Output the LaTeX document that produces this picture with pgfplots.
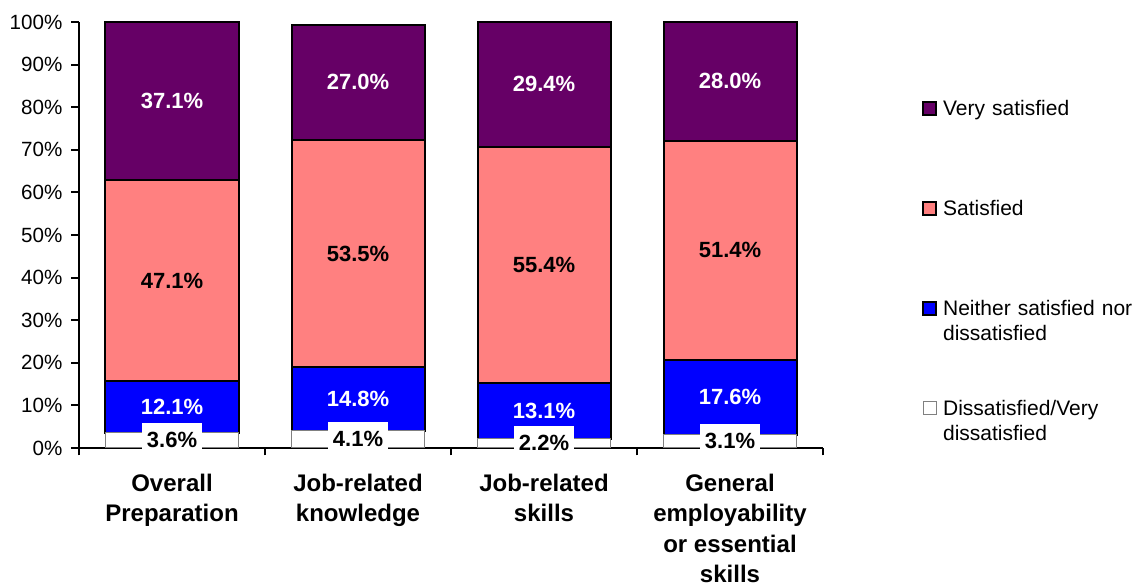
\documentclass[border=0pt]{standalone}
\usepackage{pgfplots}
\pgfplotsset{compat=1.18}
\usepackage{fontspec}
\setmainfont{Liberation Sans}
\definecolor{vsat}{HTML}{660066}
\definecolor{sat}{HTML}{FF8080}
\definecolor{neith}{HTML}{0000FF}
\definecolor{dgray}{HTML}{808080}
\begin{document}
\begin{tikzpicture}
\path[use as bounding box] (-39.5pt,-69.5pt) rectangle (527.5pt,224pt);
\begin{axis}[
  at={(0,0)}, anchor=south west,
  scale only axis, width=372pt, height=213pt,
  xmin=-0.5, xmax=3.5, ymin=0, ymax=100,
  clip=false,
  axis lines*=left,
  axis line style={line width=1pt},
  ybar stacked, bar width=66.5pt,
  xtick={-0.5,0.5,1.5,2.5,3.5}, xticklabels={},
  extra x ticks={0,1,2,3},
  extra x tick labels={Overall\\Preparation, Job-related\\knowledge, Job-related\\skills, General\\employability\\or essential\\skills},
  extra x tick style={major tick length=0pt},
  xticklabel style={align=center, font=\fontsize{12}{15.3}\selectfont\bfseries, anchor=north, yshift=-9.3pt},
  ytick={0,10,...,100},
  yticklabels={0\%,10\%,20\%,30\%,40\%,50\%,60\%,70\%,80\%,90\%,100\%},
  yticklabel style={font=\fontsize{10.3}{12}\selectfont, xshift=-1pt},
  tick align=outside,
  major tick length=3.75pt,
  tick style={line width=1pt, black},
  visualization depends on=rawy \as \rawy,
  nodes near coords={\pgfmathprintnumber[fixed,fixed zerofill,precision=1,assume math mode=true]{\rawy}\%},
  nodes near coords align={center},
  every node near coord/.append style={anchor=center, font=\fontsize{11}{12}\selectfont\bfseries},
  legend style={at={(1.1327,0.818)}, anchor=north west, draw=none, fill=none, inner sep=0pt,
    row sep={50pt,between origins}, column sep=3pt,
    font=\fontsize{10.5}{12.5}\selectfont,
    cells={anchor=base west},
    nodes={inner sep=0pt, anchor=base west, text width=100pt, align=left}},
  reverse legend,
  legend image code/.code={\draw[#1] (0pt,0.3pt) rectangle (6.5pt,6.8pt);},
]
\addplot[fill=white, draw=dgray, line width=0.5pt,
  every node near coord/.append style={fill=white, text=black, inner xsep=2.5pt, inner ysep=5pt}]
  coordinates {(0,3.6) (1,4.1) (2,2.2) (3,3.1)};
\addplot[fill=neith, draw=black, line width=1pt,
  every node near coord/.append style={text=white}]
  coordinates {(0,12.1) (1,14.8) (2,13.1) (3,17.6)};
\addplot[fill=sat, draw=black, line width=1pt,
  every node near coord/.append style={text=black}]
  coordinates {(0,47.1) (1,53.5) (2,55.4) (3,51.4)};
\addplot[fill=vsat, draw=black, line width=1pt,
  every node near coord/.append style={text=white}]
  coordinates {(0,37.1) (1,27.0) (2,29.4) (3,28.0)};
\legend{Dissatisfied/Very\\dissatisfied, Neither satisfied nor\\dissatisfied, Satisfied, Very satisfied}
\end{axis}
\end{tikzpicture}
\end{document}
